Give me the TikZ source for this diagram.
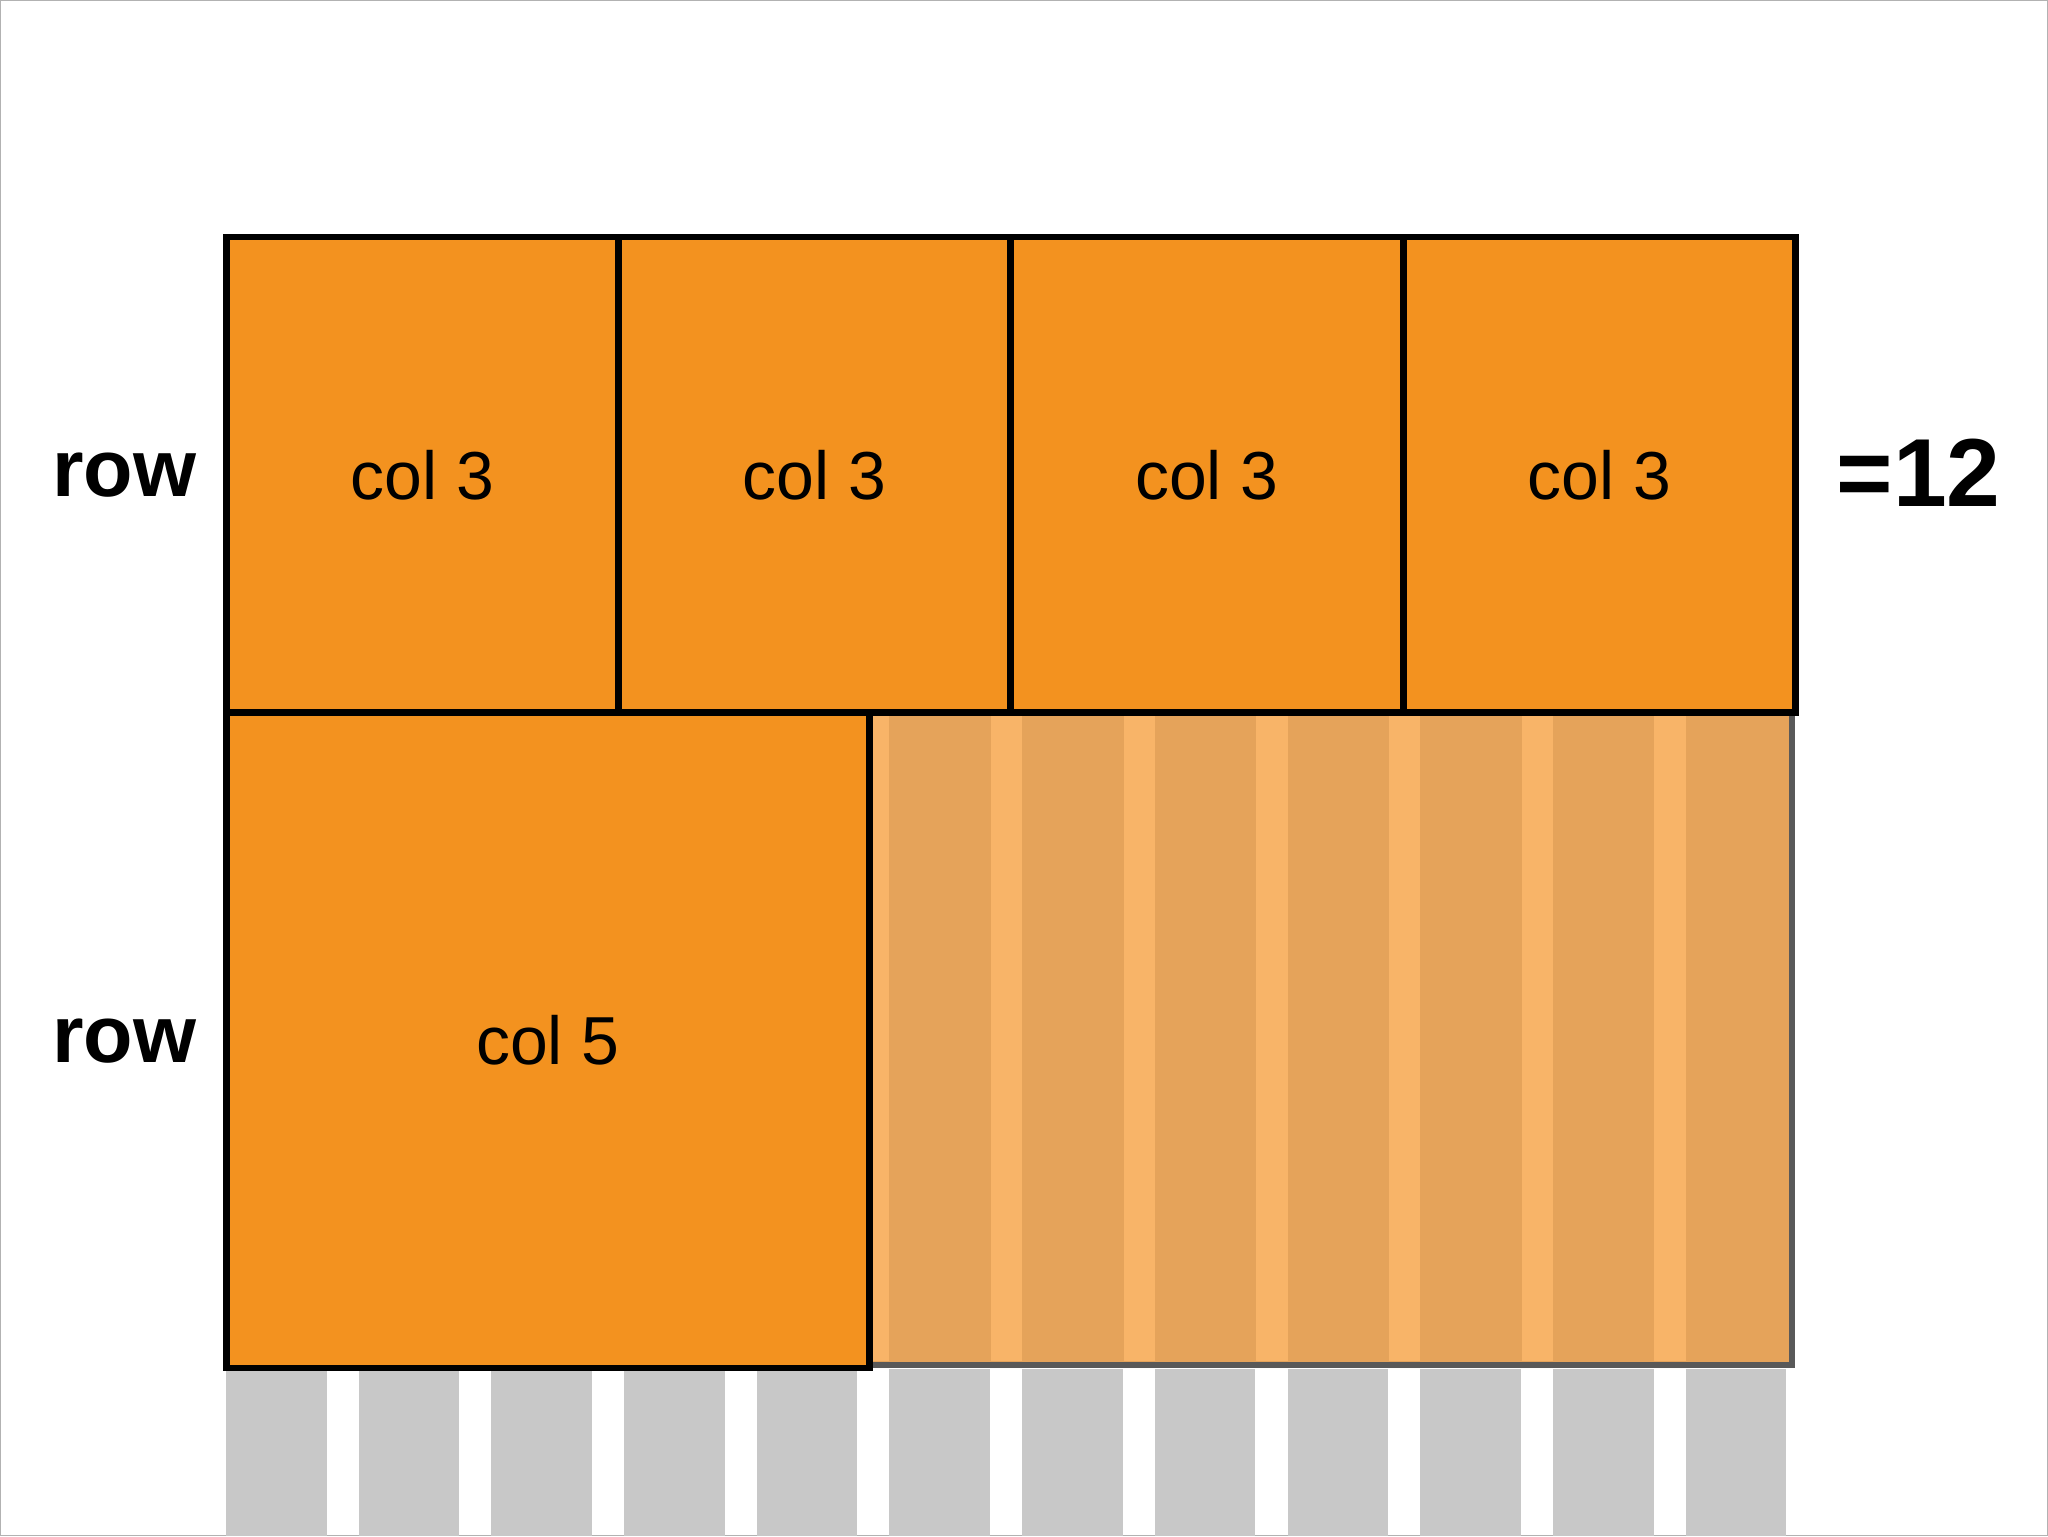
\documentclass[tikz,border=0pt]{standalone}
\usepackage{fontspec}
\setmainfont{Liberation Sans}
\definecolor{org}{HTML}{F3921F}
\definecolor{faded}{HTML}{E5A35A}
\definecolor{pale}{HTML}{F8B468}
\definecolor{gcol}{HTML}{C8C8C8}
\begin{document}
\begin{tikzpicture}[x=1pt,y=-1pt,
  cell/.style={draw=black,line width=5pt,fill=org},
  lab/.style={font=\fontsize{52}{60}\selectfont},
  side/.style={font=\bfseries\fontsize{62}{70}\selectfont}]
\useasboundingbox (0,0) rectangle (1568,1176);
\draw[gray!60,line width=1pt] (0.5,0.5) rectangle (1567.5,1175.5);
% gray columns
\foreach \i in {0,...,11}{
  \fill[gcol] ({173+101.6*\i},1048) rectangle ({250+101.6*\i},1176);
}
% faded region
\fill[faded] (663,543) rectangle (1372,1045);
\foreach \i in {0,...,6}{
  \fill[pale] ({657+101.6*\i},546) rectangle ({681+101.6*\i},1042);
}
\draw[black!65,line width=5pt] (663,543) rectangle (1372,1045);
% top row
\foreach \i/\a/\b in {1/171/471,2/471/771,3/771/1072,4/1072/1372}{
  \node[cell,draw,minimum width={\b-\a},minimum height=364,anchor=north west,inner sep=0] (c\i) at (\a,179) {};
  \node[lab] (t\i) at (c\i) {col 3};
}
\node[cell,minimum width=492,minimum height=502,anchor=north west,inner sep=0] (c5) at (171,543) {};
\node[lab] (t5) at (c5) {col 5};
\node[side] (r1) at (95,364) {row};
\node[side] (r2) at (95,797) {row};
\node[side,font=\bfseries\fontsize{74}{80}\selectfont] (eq) at (1469,362) {=12};
\end{tikzpicture}
\end{document}
